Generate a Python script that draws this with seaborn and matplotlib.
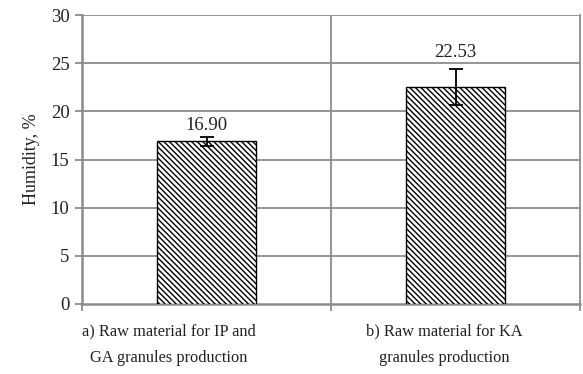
import matplotlib
matplotlib.use("Agg")
import matplotlib.pyplot as plt
import matplotlib.transforms as mtransforms
import seaborn as sns
import pandas as pd
import numpy as np

categories = ["a) Raw material for IP and\nGA granules production",
              "b) Raw material for KA\ngranules production"]
humidity = [16.90, 22.53]
errors = [0.45, 1.90]
value_labels = ["16.90", "22.53"]
yticks = [0, 5, 10, 15, 20, 25, 30]

sns.set_theme(style="white")
plt.rcParams["font.family"] = ["Liberation Serif", "DejaVu Serif"]
plt.rcParams["hatch.color"] = "#a0a0a0"
plt.rcParams["hatch.linewidth"] = 1.0

df = pd.DataFrame({"sample": categories, "humidity": humidity})

fig = plt.figure(figsize=(5.83, 3.74), dpi=100)
ax = fig.add_axes([82 / 583, 1 - 304 / 374, 498 / 583, 289 / 374])

sns.barplot(data=df, x="sample", y="humidity", ax=ax, width=0.4,
            color="white", edgecolor="black", linewidth=1.0,
            hatch="\\" * 6, errorbar=None, zorder=3)

ax.errorbar(np.arange(len(categories)), humidity, yerr=errors, fmt="none",
            ecolor="black", elinewidth=1.3, capsize=5, capthick=1.3, zorder=4)

# value labels sit a little above the error bar caps
label_gap = [0.25, 0.8]
for i, (v, e, lab) in enumerate(zip(humidity, errors, value_labels)):
    ax.text(i, v + e + label_gap[i], lab, ha="center", va="bottom",
            fontsize=13.5, color="#222222")

grid_c = "#8c8c8c"
ax.set_ylim(0, 30)
ax.set_xlim(-0.5, 1.5)
ax.set_yticks(yticks)
ax.set_yticklabels([str(t) for t in yticks], fontsize=13.5, color="#222222")
for t in yticks[1:]:
    ax.axhline(t, color=grid_c, lw=1.3, zorder=1)
ax.axvline(0.5, color=grid_c, lw=1.3, zorder=1)

ax.set_xticks([0, 1])
ax.set_xticklabels(categories, fontsize=11.8, color="#222222", linespacing=1.85)
ax.set_xticks([-0.5, 0.5, 1.5], minor=True)
ax.tick_params(axis="x", which="major", length=0, pad=14)
ax.tick_params(axis="x", which="minor", length=5, width=1.3, color=grid_c,
               direction="out", bottom=True)
ax.tick_params(axis="y", length=5, width=1.3, color=grid_c, direction="out",
               left=True, pad=4)

# wrapped category labels are nudged left, as in a spreadsheet layout
for lbl, dx in zip(ax.get_xticklabels(), [-38, -11]):
    lbl.set_transform(lbl.get_transform() +
                      mtransforms.ScaledTranslation(dx / 100, 0, fig.dpi_scale_trans))

ax.set_xlabel("")
ax.set_ylabel("Humidity, %", fontsize=13, color="#222222", labelpad=8)

for side in ["left", "bottom", "right"]:
    ax.spines[side].set_visible(True)
    ax.spines[side].set_color(grid_c)
    ax.spines[side].set_linewidth(1.8 if side != "right" else 1.3)
ax.spines["top"].set_visible(False)

fig.savefig("out.png", dpi=100)
